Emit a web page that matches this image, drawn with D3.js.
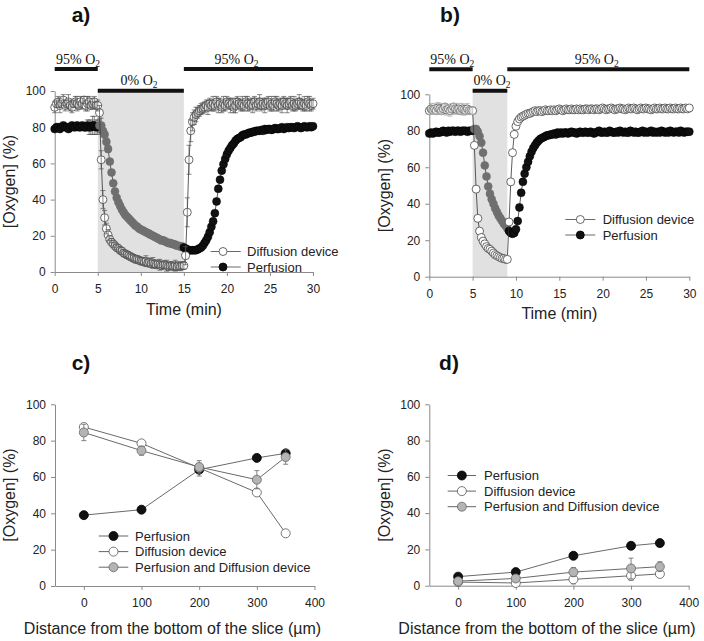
<!DOCTYPE html>
<html><head><meta charset="utf-8">
<script src="https://cdn.jsdelivr.net/npm/d3@7"></script>
<style>
body{margin:0;background:#fff;}
svg{display:block;}
</style></head><body>
<svg id="chart" width="704" height="641"></svg>
<script>
// ---------------- DATA ----------------
// Time-course panels a) and b): one sample every 0.2 min, 0..30 min
const sampleStepMin = 0.2;
const timeTicks = [0, 5, 10, 15, 20, 25, 30];
const oxygenTicks = [0, 20, 40, 60, 80, 100];

const aDiffusion = [
  91,93,94,92,93,95,92,93,94,92,91,93,94,93,92,94,93,95,92,93,94,92,93,94,92,92,
  88,62,40,30,24,20.5,18,16.5,15.5,14.5,13.5,13,12,11.5,10.5,10,9.5,9,8.5,8,7.5,7,7,6.5,6,
  6,5.5,6,5,5.5,4.5,5,4.5,4,4.5,4,3.5,4,4,3.5,3,3.5,3.5,3,3.5,3,3.5,3,3.5,3.5,
  9,33,62,78,83,85.5,87,88,89,90,90.5,91,
  92,91,93,92,93,92,94,92,93,91,93,92,94,93,92,93,91,92,94,93,
  92,93,92,94,93,92,93,92,94,92,93,94,92,93,92,93,94,92,93,92,
  94,93,92,93,92,94,93,92,93,94,92,93,92,93,94,93,92,93,92,94,
  93,92,93
];
const aDiffusionSd = [
  3,2,3,4,2,3,3,2,4,3,3,2,3,4,2,3,3,2,3,4,3,2,3,3,2,3,
  4,5,5,4,3,3,2,2,2,2,2,2,2,2,2,2,2,2,2,2,2,2,2,2,2,
  2,2,3,2,2,2,3,2,2,2,3,2,2,2,3,2,2,2,2,3,2,2,2,2,2,
  5,8,8,6,5,4,4,3,3,3,3,3,
  3,4,3,3,4,3,3,4,3,3,4,3,3,3,4,3,3,4,3,3,
  3,4,3,3,4,3,3,4,3,3,3,4,3,3,4,3,3,3,4,3,
  3,4,3,3,4,3,3,4,3,3,3,4,3,3,4,3,3,4,3,3,
  4,3,3
];
const aPerfusion = [
  79,80,80,79,80,81,80,80,79,80,81,80,80,81,80,80,81,80,80,81,80,80,81,81,80,80,
  81,81,78,76,72,68,61,55,49,44.5,41,38.5,36.5,34.5,33,31.5,30.5,29.5,28.5,27.5,26.5,25.5,25,24,23.5,
  23,22.5,22,21.5,21,20.5,20,19.5,19,18.5,18,17.5,17.5,17,16.5,16,16,15.5,15.5,15,14.5,14.5,14,14,13.5,
  13,12.5,12,12,12,12,12,12.5,13,13.5,14.5,16,17.5,19.5,22,25,28,32.5,39,46,
  51,56,59.5,62.5,65,67,68.5,70,71,72.5,73.5,74,74.5,75.5,76,76,76.5,77,77,77.5,77.5,78,78,78,78.5,
  78,79,78.5,79,79,78.5,79,79.5,79,79,79.5,80,79,79.5,80,79.5,80,80,79.5,80,
  80.5,80,79.5,80,80.5,80,80,80.5,80,80.5
];
const aPerfusionSd = [
  1,1,1,1,1,1,1,1,1,1,1,1,1,1,1,1,1,1,2,3,4,4,5,5,4,4,
  4,4,3,2,2,2,1,1,1,1,1,1,1,1,1,1,1,1,1,1,1,1,1,1,1,
  1,1,1,1,2,1,1,1,1,1,1,2,1,1,1,1,2,1,1,2,1,1,1,2,1,
  1,1,1,1,1,1,1,1,1,1,1,1,1,1,1,1,1,1,1,1,
  1,1,1,1,1,1,1,1,1,1,1,1,1,1,1,1,1,1,1,1,
  1,1,1,1,1,1,1,1,1,1,1,1,1,1,1,1,1,1,1,1,
  1,1,1,1,1,1,1,1,1,1,1,1,1,1,1
];
const bDiffusion = [
  91,92,91.5,92,91,92.5,92,91,92,93,91.5,92,91,92,93,92,91.5,92,91,92,91.5,91,92,91,91,91,
  72,48,32,25,21.5,19.5,18,16.5,15.5,15,14,13,12,11.5,11,10.5,10,10,9.5,9.5,
  30,52,68,78,82.5,85,86.5,87.5,88,88.5,89,89.5,89.5,90,90.5,
  91,90.5,91,91,90.5,91,91.5,91,91,91.5,91,91.5,91,91.5,92,91.5,91,91.5,92,91.5,
  91.5,92,91.5,91.5,92,91.5,92,91.5,91.5,92,92,91.5,92,92,91.5,92,92,91.5,92,92.5,
  92,91.5,92,92,92.5,92,91.5,92,92,92.5,92,92,91.5,92,92.5,92,92,92.5,92,91.5,
  92,92.5,92,92,92.5,92,92,91.5,92,92.5,92,92,92.5,92,92,92.5,92,92,92.5,92,
  92,92.5,92,92,92.5,92,92,92.5,92,92.5
];
const bDiffusionSd = [2,3,2,3,2,3,3,2,3,2,3,2,3,3,2,3,2,3,2,3,3,2,3,2,2,2];
const bPerfusion = [
  78.5,79,78.5,79,79.5,79,79,79.5,80,79.5,79,80,79.5,80,80,79.5,80,80,79.5,80,80,80,79.5,80,80,80,
  81,81,79.5,77,73.5,68,61,55,49.5,45.5,42.5,40,37.5,35.5,33.5,32,30.5,29,28,26.5,
  25,24,23.5,24,26,30.5,38,46,52,56.5,60,63,66,68.5,70.5,72,73.5,74.5,75.5,76,76.5,77,77.5,77.5,78,
  78,78.5,78,79,78.5,79,78.5,79,79,78.5,79,79.5,79,79,78.5,79,79.5,79,79,79.5,
  79,79,79.5,79,78.5,79,79.5,80,79,79,79.5,79,79,80,79.5,79,79,79.5,79,80,
  79.5,79,79.5,79,79,80,79.5,79,79.5,79,79,79.5,80,79,79.5,79,79.5,80,79,79.5,
  79,79.5,79,80,79.5,79,79.5,79,80,79.5,79,79.5,79.5,79,80,79.5,79,79.5,79.5,79.5
];

// Gas phases (min)
const phasesA = [
  {label: "95% O", from: 0, to: 5, level: "high"},
  {label: "0% O", from: 5, to: 15, level: "low"},
  {label: "95% O", from: 15, to: 30, level: "high"}
];
const phasesB = [
  {label: "95% O", from: 0, to: 5, level: "high"},
  {label: "0% O", from: 5, to: 9, level: "low"},
  {label: "95% O", from: 9, to: 30, level: "high"}
];

// Depth profiles c) and d)
const depth = [0, 100, 200, 300, 350];
const depthTicks = [0, 100, 200, 300, 400];
const cPerfusion = [39, 42, 64, 70.5, 73];
const cPerfusionSd = [0, 2, 3.5, 0, 1];
const cDiffusion = [87.5, 78.5, 65, 51.5, 29];
const cDiffusionSd = [1, 1, 2, 0, 0];
const cBoth = [84.5, 74.5, 65.5, 58.5, 71];
const cBothSd = [4.5, 2.5, 3.5, 5, 4];
const dPerfusion = [5, 7.5, 16.5, 22, 23.5];
const dPerfusionSd = [1, 1, 0, 0, 0];
const dDiffusion = [2, 1.5, 3.5, 5.5, 6.5];
const dDiffusionSd = [0.5, 1, 2.5, 2.5, 1.5];
const dBoth = [2.5, 4, 7.5, 9.5, 10.5];
const dBothSd = [1, 1, 2.5, 5.7, 2.7];

// ---------------- DRAWING ----------------
const SANS = "'Liberation Sans', Arial, Helvetica, sans-serif";
const SERIF = "'Liberation Serif', 'Times New Roman', serif";
const AXIS_COL = "#8a8a8a";
const svg = d3.select("#chart");

function axes(g, x, y, xt, yt) {
  const ax = g.append("g").attr("transform", `translate(0,${y.range()[0]})`)
    .call(d3.axisBottom(x).tickValues(xt).tickSize(4).tickSizeOuter(0).tickPadding(8.5));
  const ay = g.append("g").attr("transform", `translate(${x.range()[0]},0)`)
    .call(d3.axisLeft(y).tickValues(yt).tickSize(4).tickSizeOuter(0).tickPadding(5));
  [ax, ay].forEach(a => {
    a.attr("font-family", SANS).attr("font-size", 12);
    a.select(".domain").attr("stroke", AXIS_COL);
    a.selectAll(".tick line").attr("stroke", AXIS_COL);
    a.selectAll(".tick text").attr("fill", "#222");
  });
}

function title(txt, x, y) {
  svg.append("text").attr("x", x).attr("y", y).attr("text-anchor", "middle")
    .attr("font-family", SANS).attr("font-weight", "bold").attr("font-size", 21)
    .attr("fill", "#111").text(txt);
}
function xTitle(txt, x, y) {
  svg.append("text").attr("x", x).attr("y", y).attr("text-anchor", "middle")
    .attr("font-family", SANS).attr("font-size", 16).attr("fill", "#222").text(txt);
}
function yTitle(txt, x, y) {
  svg.append("text").attr("transform", `translate(${x},${y}) rotate(-90)`)
    .attr("text-anchor", "middle").attr("font-family", SANS).attr("font-size", 16)
    .attr("fill", "#222").text(txt);
}

function errorBars(g, pts, color, width) {
  const cap = 2.5;
  pts.forEach(p => {
    if (!p.sd) return;
    const y1 = p.y(p.v - p.sd), y2 = p.y(p.v + p.sd);
    g.append("line").attr("x1", p.x).attr("x2", p.x).attr("y1", y1).attr("y2", y2)
      .attr("stroke", color).attr("stroke-width", width);
    [y1, y2].forEach(yy => g.append("line").attr("x1", p.x - cap).attr("x2", p.x + cap)
      .attr("y1", yy).attr("y2", yy).attr("stroke", color).attr("stroke-width", width));
  });
}

function timePanel(cfg) {
  const x = d3.scaleLinear().domain([0, 30]).range(cfg.xr);
  const y = d3.scaleLinear().domain([0, 100]).range(cfg.yr);
  const g = svg.append("g");
  const low = cfg.phases.find(p => p.level === "low");
  // shaded anoxia window
  g.append("rect").attr("x", x(low.from)).attr("width", x(low.to) - x(low.from))
    .attr("y", cfg.shadeTop).attr("height", y(0) - cfg.shadeTop).attr("fill", "#e1e1e1");
  // phase bars + labels
  cfg.phases.forEach((p, i) => {
    const by = p.level === "high" ? cfg.barHigh : cfg.barLow;
    g.append("line").attr("x1", x(p.from)).attr("x2", x(p.to)).attr("y1", by).attr("y2", by)
      .attr("stroke", "#111").attr("stroke-width", 4);
    const t = g.append("text").attr("x", cfg.labelX[i]).attr("y", by - 5.5)
      .attr("text-anchor", "middle").attr("font-family", SERIF).attr("font-size", 14)
      .attr("fill", "#111").text(p.label);
    t.append("tspan").attr("font-size", 9.5).attr("dy", 3).text("2");
  });
  axes(g, x, y, timeTicks, oxygenTicks);

  const tOf = i => i * sampleStepMin;
  const line = d3.line().x((d, i) => x(tOf(i))).y(d => y(d));
  // perfusion
  const pPts = cfg.perf.map((v, i) => ({x: x(tOf(i)), v, sd: cfg.perfSd ? cfg.perfSd[i] : 0, y}));
  errorBars(g, pPts, "#555", 0.7);
  g.append("path").datum(cfg.perf).attr("d", line).attr("fill", "none")
    .attr("stroke", "#333").attr("stroke-width", 0.8);
  g.selectAll(null).data(cfg.perf).join("circle")
    .attr("cx", (d, i) => x(tOf(i))).attr("cy", d => y(d)).attr("r", 4)
    .attr("fill", (d, i) => (tOf(i) > low.from + 0.01 && tOf(i) < cfg.greyEnd) ? "#6f6f6f" : "#111")
    .attr("stroke", (d, i) => (tOf(i) > low.from + 0.01 && tOf(i) < cfg.greyEnd) ? "#6f6f6f" : "#000")
    .attr("stroke-width", 0.5);
  // diffusion
  g.append("path").datum(cfg.diff).attr("d", line).attr("fill", "none")
    .attr("stroke", "#333").attr("stroke-width", 0.8);
  g.selectAll(null).data(cfg.diff).join("circle")
    .attr("cx", (d, i) => x(tOf(i))).attr("cy", d => y(d)).attr("r", 4)
    .attr("fill", "#fff").attr("stroke", "#444").attr("stroke-width", 0.8);
  const dPts = cfg.diff.map((v, i) => ({x: x(tOf(i)), v, sd: cfg.diffSd[i] || 0, y}));
  errorBars(g, dPts, cfg.diffErrCol, 0.7);

  // legend
  const L = cfg.legend;
  [["Diffusion device", "#fff", "#444"], ["Perfusion", "#111", "#000"]].forEach((e, k) => {
    const yy = L.y + k * 15.5;
    g.append("line").attr("x1", L.x1).attr("x2", L.x2).attr("y1", yy).attr("y2", yy)
      .attr("stroke", "#444").attr("stroke-width", 0.8);
    g.append("circle").attr("cx", L.cx).attr("cy", yy).attr("r", 4)
      .attr("fill", e[1]).attr("stroke", e[2]).attr("stroke-width", 0.8);
    g.append("text").attr("x", L.tx).attr("y", yy + 4.6).attr("font-family", SANS)
      .attr("font-size", 13).attr("fill", "#222").text(e[0]);
  });
}

function depthPanel(cfg) {
  const x = d3.scaleLinear().domain([-50, 400]).range(cfg.xr);
  const y = d3.scaleLinear().domain([0, 100]).range(cfg.yr);
  const g = svg.append("g");
  axes(g, x, y, depthTicks, oxygenTicks);
  const line = d3.line().x((d, i) => x(depth[i])).y(d => y(d));
  cfg.series.forEach(s => {
    g.append("path").datum(s.v).attr("d", line).attr("fill", "none")
      .attr("stroke", "#6a6a6a").attr("stroke-width", 1);
    errorBars(g, s.v.map((v, i) => ({x: x(depth[i]), v, sd: s.sd[i], y})), "#666", 0.8);
    g.selectAll(null).data(s.v).join("circle")
      .attr("cx", (d, i) => x(depth[i])).attr("cy", d => y(d)).attr("r", 4.5)
      .attr("fill", s.fill).attr("stroke", s.stroke).attr("stroke-width", 0.8);
  });
  const L = cfg.legend;
  cfg.series.forEach((s, k) => {
    const yy = L.y + k * 15.6;
    g.append("line").attr("x1", L.x1).attr("x2", L.x2).attr("y1", yy).attr("y2", yy)
      .attr("stroke", "#555").attr("stroke-width", 0.9);
    g.append("circle").attr("cx", (L.x1 + L.x2) / 2).attr("cy", yy).attr("r", 4.5)
      .attr("fill", s.fill).attr("stroke", s.stroke).attr("stroke-width", 0.8);
    g.append("text").attr("x", L.tx).attr("y", yy + 4.6).attr("font-family", SANS)
      .attr("font-size", 13).attr("fill", "#222").text(s.name);
  });
}

// ---- Panel a
timePanel({
  xr: [54.7, 313], yr: [272, 91], shadeTop: 90, barHigh: 69, barLow: 90.7,
  labelX: [78, 139, 236.5], phases: phasesA, greyEnd: 14.9,
  perf: aPerfusion, perfSd: aPerfusionSd, diff: aDiffusion, diffSd: aDiffusionSd, diffErrCol: "#555",
  legend: {x1: 210.7, x2: 240.7, cx: 223, tx: 247, y: 251.5}
});
// ---- Panel b
timePanel({
  xr: [429.3, 689.3], yr: [276.7, 94.3], shadeTop: 91, barHigh: 69.3, barLow: 90.7,
  labelX: [452.3, 492, 596.7], phases: phasesB, greyEnd: 9.05,
  perf: bPerfusion, perfSd: null, diff: bDiffusion, diffSd: bDiffusionSd, diffErrCol: "#aaa",
  legend: {x1: 565.3, x2: 595.3, cx: 580.3, tx: 602.7, y: 219.5}
});
// ---- Panel c
depthPanel({
  xr: [55, 314.5], yr: [586, 404.3],
  series: [
    {name: "Perfusion", v: cPerfusion, sd: cPerfusionSd, fill: "#111", stroke: "#000"},
    {name: "Diffusion device", v: cDiffusion, sd: cDiffusionSd, fill: "#fff", stroke: "#555"},
    {name: "Perfusion and Diffusion device", v: cBoth, sd: cBothSd, fill: "#b4b4b4", stroke: "#666"}
  ],
  legend: {x1: 98.7, x2: 128.3, tx: 135, y: 536}
});
// ---- Panel d
depthPanel({
  xr: [429.3, 688.7], yr: [585.7, 404.3],
  series: [
    {name: "Perfusion", v: dPerfusion, sd: dPerfusionSd, fill: "#111", stroke: "#000"},
    {name: "Diffusion device", v: dDiffusion, sd: dDiffusionSd, fill: "#fff", stroke: "#555"},
    {name: "Perfusion and Diffusion device", v: dBoth, sd: dBothSd, fill: "#b4b4b4", stroke: "#666"}
  ],
  legend: {x1: 447.7, x2: 476, tx: 484, y: 475.5}
});

// titles
title("a)", 81, 22); title("b)", 450, 22); title("c)", 81, 370); title("d)", 449, 370);
xTitle("Time (min)", 184, 315); xTitle("Time (min)", 559.3, 319);
xTitle("Distance from the bottom of the slice (µm)", 172.5, 634);
xTitle("Distance from the bottom of the slice (µm)", 547, 634);
yTitle("[Oxygen] (%)", 15, 181.5); yTitle("[Oxygen] (%)", 390, 185.5);
yTitle("[Oxygen] (%)", 15, 495); yTitle("[Oxygen] (%)", 390, 495);
</script>
</body></html>
